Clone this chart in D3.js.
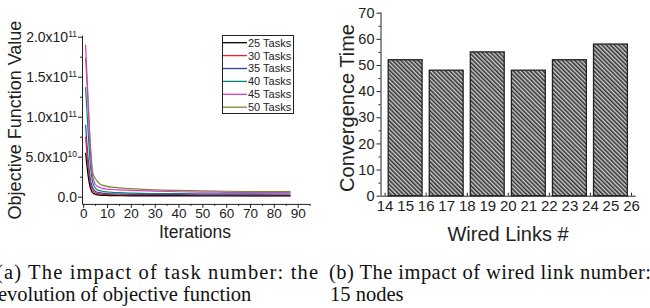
<!DOCTYPE html>
<html lang="en">
<head>
<meta charset="UTF-8">
<title>Task number and wired links</title>
<script src="https://d3js.org/d3.v7.min.js"></script>
<style>
    body { margin: 0; background: #fff; }
    svg { display: block; font-family: "Liberation Sans", Arial, sans-serif; }
    .axis path, .axis line { stroke: #222; }
    .axis text { fill: #222; }
    .caption { font-family: "Liberation Serif", "Times New Roman", serif; font-size: 20.5px; fill: #111; }
</style>
</head>
<body>
<svg id="chart" width="650" height="308"></svg>
<script>
// ---- left chart: objective function vs iterations (values in 1e10) ----
var iterations = [1, 2, 3, 4, 5, 6, 7, 8, 10, 12, 15, 20, 30, 40, 50, 60, 70, 87];
var taskNames = ["25 Tasks", "30 Tasks", "35 Tasks", "40 Tasks", "45 Tasks", "50 Tasks"];
var tasks25 = [5.5, 2.8, 1.1, 0.5, 0.3, 0.22, 0.19, 0.17, 0.15, 0.13, 0.12, 0.11, 0.1, 0.1, 0.09, 0.09, 0.09, 0.09];
var tasks30 = [7.5, 4.0, 1.7, 0.8, 0.5, 0.4, 0.35, 0.32, 0.28, 0.25, 0.22, 0.2, 0.17, 0.16, 0.15, 0.15, 0.14, 0.14];
var tasks35 = [9.0, 5.0, 2.2, 1.1, 0.7, 0.55, 0.5, 0.45, 0.4, 0.36, 0.33, 0.3, 0.27, 0.25, 0.24, 0.23, 0.22, 0.21];
var tasks40 = [13.7, 8.5, 4.0, 1.8, 1.1, 0.85, 0.75, 0.68, 0.6, 0.55, 0.5, 0.45, 0.4, 0.38, 0.37, 0.36, 0.35, 0.34];
var tasks45 = [19.0, 12.5, 6.0, 2.5, 1.6, 1.3, 1.15, 1.05, 0.95, 0.9, 0.85, 0.8, 0.7, 0.62, 0.58, 0.55, 0.52, 0.5];
var tasks50 = [17.4, 12.0, 6.5, 3.0, 2.3, 1.9, 1.6, 1.45, 1.3, 1.2, 1.1, 1.0, 0.85, 0.78, 0.72, 0.68, 0.65, 0.63];
var taskColors = ["#000000", "#e8232a", "#2a45b5", "#0a8078", "#d43fc4", "#848038"];

var yTickVals = [0, 5e10, 1e11, 1.5e11, 2e11];
var yTickMant = ["0.0", "5.0x10", "1.0x10", "1.5x10", "2.0x10"];
var yTickExp = ["", "10", "11", "11", "11"];

// ---- right chart: convergence time vs wired links ----
var wiredLinks = [15, 17, 19, 21, 23, 25];
var convTime = [52, 48, 55, 48, 52, 58];

var svg = d3.select("#chart");

var defs = svg.append("defs");
var pat = defs.append("pattern")
    .attr("id", "hatch")
    .attr("patternUnits", "userSpaceOnUse")
    .attr("width", 3)
    .attr("height", 3)
    .attr("patternTransform", "rotate(-45)");
pat.append("rect").attr("width", 3).attr("height", 3).attr("fill", "#cfcfcf");
pat.append("line").attr("x1", 0.8).attr("y1", 0).attr("x2", 0.8).attr("y2", 3)
    .attr("stroke", "#2a2a2a").attr("stroke-width", 1.5);

// ================= left panel =================
var xL = d3.scaleLinear().domain([-0.5, 95]).range([82, 309.6]);
var yL = d3.scaleLinear().domain([-0.9e10, 2.02e11]).range([203.9, 35.1]);

var gxL = svg.append("g")
    .attr("class", "axis")
    .attr("transform", "translate(0," + yL.range()[0] + ")")
    .call(d3.axisBottom(xL).tickValues(d3.range(0, 91, 10)).tickSize(4).tickSizeOuter(0).tickPadding(1));
gxL.selectAll("text").style("font-size", "13.5px");
svg.append("g")
    .attr("class", "axis")
    .attr("transform", "translate(0," + yL.range()[0] + ")")
    .call(d3.axisBottom(xL).tickValues(d3.range(5, 96, 10)).tickSize(2).tickFormat("").tickSizeOuter(0))
    .select(".domain").remove();

var gyL = svg.append("g")
    .attr("class", "axis")
    .attr("transform", "translate(" + xL.range()[0] + ",0)")
    .call(d3.axisLeft(yL).tickValues(yTickVals).tickSize(4).tickSizeOuter(0).tickFormat(""));
gyL.selectAll(".tick").append("text")
    .attr("x", -5)
    .attr("dy", "0.35em")
    .attr("text-anchor", "end")
    .attr("fill", "#222")
    .style("font-size", "14px")
    .each(function(d, i) {
        var t = d3.select(this);
        t.append("tspan").text(yTickMant[i]);
        if (yTickExp[i]) {
            t.append("tspan").attr("dy", "-0.65em").style("font-size", "8.5px").text(yTickExp[i]);
        }
    });
svg.append("g")
    .attr("class", "axis")
    .attr("transform", "translate(" + xL.range()[0] + ",0)")
    .call(d3.axisLeft(yL).tickValues([2.5e10, 7.5e10, 1.25e11, 1.75e11]).tickSize(2).tickFormat(""))
    .select(".domain").remove();

var line = d3.line()
    .x(function(d) { return xL(d[0]); })
    .y(function(d) { return yL(d[1] * 1e10); })
    .curve(d3.curveMonotoneX);

var allTasks = [tasks25, tasks30, tasks35, tasks40, tasks45, tasks50];
// draw from last to first so the lower curves sit on top like the original
for (var s = allTasks.length - 1; s >= 0; s--) {
    var pts = iterations.map(function(it, i) { return [it, allTasks[s][i]]; });
    svg.append("path")
        .datum(pts)
        .attr("d", line)
        .attr("fill", "none")
        .attr("stroke", taskColors[s])
        .attr("stroke-width", 1.2);
}

// legend
var legend = svg.append("g").attr("transform", "translate(222,35)");
legend.append("rect")
    .attr("x", 0.5).attr("y", 0.5)
    .attr("width", 71).attr("height", 78)
    .attr("fill", "#fff").attr("stroke", "#222");
taskNames.forEach(function(name, i) {
    var yy = 7.7 + i * 12.9;
    legend.append("line")
        .attr("x1", 1).attr("x2", 25).attr("y1", yy).attr("y2", yy)
        .attr("stroke", taskColors[i]).attr("stroke-width", 1.3);
    legend.append("text")
        .attr("x", 26).attr("y", yy).attr("dy", "0.36em")
        .style("font-size", "11px").attr("fill", "#222")
        .text(name);
});

svg.append("text")
    .attr("transform", "translate(21,120) rotate(-90)")
    .attr("text-anchor", "middle")
    .style("font-size", "18px").attr("fill", "#222")
    .text("Objective Function Value");
svg.append("text")
    .attr("x", 195).attr("y", 238)
    .attr("text-anchor", "middle")
    .style("font-size", "17.5px").attr("fill", "#222")
    .text("Iterations");

// ================= right panel =================
var xR = d3.scaleLinear().domain([13.8, 26.2]).range([380.5, 635.1]);
var yR = d3.scaleLinear().domain([0, 70.3]).range([195.7, 11.9]);

var gxR = svg.append("g")
    .attr("class", "axis")
    .attr("transform", "translate(0," + yR(0) + ")")
    .call(d3.axisBottom(xR).tickValues(d3.range(14, 27, 1)).tickSize(-3).tickSizeOuter(0).tickPadding(5));
gxR.selectAll("text").style("font-size", "15px");

var gyR = svg.append("g")
    .attr("class", "axis")
    .attr("transform", "translate(" + xR.range()[0] + ",0)")
    .call(d3.axisLeft(yR).tickValues(d3.range(0, 71, 10)).tickSize(4).tickSizeOuter(0).tickPadding(2));
gyR.selectAll("text").style("font-size", "14.5px");
svg.append("g")
    .attr("class", "axis")
    .attr("transform", "translate(" + xR.range()[0] + ",0)")
    .call(d3.axisLeft(yR).tickValues(d3.range(5, 70, 10)).tickSize(2).tickFormat(""))
    .select(".domain").remove();

var barW = 1.65;
svg.selectAll(".bar")
    .data(wiredLinks)
    .enter()
    .append("rect")
    .attr("class", "bar")
    .attr("x", function(d) { return xR(d - barW / 2); })
    .attr("y", function(d, i) { return yR(convTime[i]); })
    .attr("width", xR(barW) - xR(0))
    .attr("height", function(d, i) { return yR(0) - yR(convTime[i]); })
    .attr("fill", "url(#hatch)")
    .attr("stroke", "#222")
    .attr("stroke-width", 1.3);

svg.append("text")
    .attr("transform", "translate(354,108) rotate(-90)")
    .attr("text-anchor", "middle")
    .style("font-size", "20px").attr("fill", "#222")
    .text("Convergence Time");
svg.append("text")
    .attr("x", 508).attr("y", 241)
    .attr("text-anchor", "middle")
    .style("font-size", "20px").attr("fill", "#222")
    .text("Wired Links #");

// ================= captions =================
svg.append("text").attr("class", "caption")
    .attr("x", -4).attr("y", 279)
    .attr("textLength", 322).attr("lengthAdjust", "spacing")
    .text("(a) The impact of task number: the");
svg.append("text").attr("class", "caption")
    .attr("x", -2).attr("y", 301)
    .text("evolution of objective function");
svg.append("text").attr("class", "caption")
    .attr("x", 329).attr("y", 279)
    .attr("textLength", 322).attr("lengthAdjust", "spacing")
    .text("(b) The impact of wired link number:");
svg.append("text").attr("class", "caption")
    .attr("x", 330).attr("y", 301)
    .text("15 nodes");
</script>
</body>
</html>
